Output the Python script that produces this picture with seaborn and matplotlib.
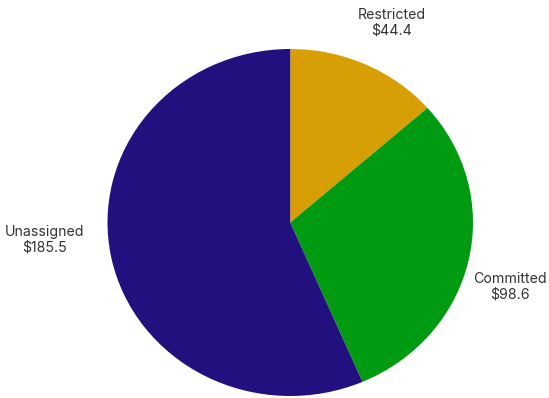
import matplotlib
matplotlib.use("Agg")
import matplotlib.pyplot as plt
import seaborn as sns

categories = ["Restricted", "Committed", "Unassigned"]
values = [44.4, 98.6, 185.5]
colors = ["#D89E06", "#009B11", "#22107E"]
label_pos = [(0.557, 1.153), (1.202, -0.372), (-1.342, -0.101)]

sns.set_theme(style="white")
plt.rcParams['font.family'] = ['Inter', 'DejaVu Sans']

fig = plt.figure(figsize=(5.49, 3.98), dpi=100)
ax = fig.add_axes([107.5 / 549, 2 / 398, 365.5 / 549, 347 / 398])
ax.pie(values, colors=sns.color_palette(colors), startangle=90, counterclock=False,
       radius=1, wedgeprops=dict(linewidth=0))
ax.set_aspect('auto')
ax.set_xlim(-1, 1)
ax.set_ylim(-1, 1)
ax.axis('off')

for cat, val, (x, y) in zip(categories, values, label_pos):
    ax.text(x, y, f"{cat}\n${val:.1f}", ha='center', va='center', fontsize=10.2,
            color='#333333', linespacing=1.1)

fig.savefig("out.png", dpi=100)
